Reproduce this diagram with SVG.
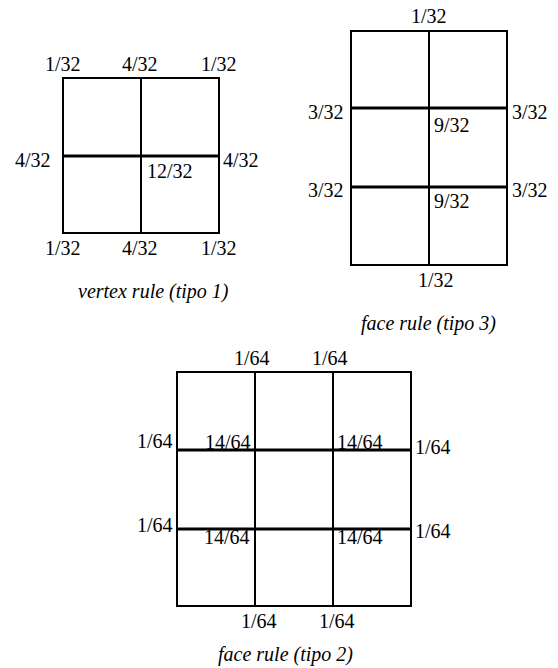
<svg xmlns="http://www.w3.org/2000/svg" width="558" height="668" viewBox="0 0 558 668">
<style>
.b{fill:none;stroke:#000;stroke-width:2}
.v{stroke:#000;stroke-width:2}
.h{stroke:#000;stroke-width:3}
text{font-family:"Liberation Serif","Times New Roman",serif;font-size:20px;fill:#000}
.c{font-style:italic}
</style>
<rect width="558" height="668" fill="#fff"/>
<g id="vertex-rule">
<rect class="b" x="63" y="78" width="156" height="155"/>
<line class="v" x1="141" y1="78" x2="141" y2="233"/>
<line class="h" x1="63" y1="156" x2="219" y2="156"/>
<text x="45" y="71">1/32</text>
<text x="122" y="71">4/32</text>
<text x="201" y="71">1/32</text>
<text x="15" y="167">4/32</text>
<text x="223" y="167">4/32</text>
<text x="147" y="178">12/32</text>
<text x="45" y="255">1/32</text>
<text x="122" y="255">4/32</text>
<text x="201" y="255">1/32</text>
<text class="c" x="78" y="298">vertex rule (tipo 1)</text>
</g>
<g id="face-rule-3">
<rect class="b" x="351" y="31" width="156" height="234"/>
<line class="v" x1="429" y1="31" x2="429" y2="265"/>
<line class="h" x1="351" y1="108" x2="507" y2="108"/>
<line class="h" x1="351" y1="187" x2="507" y2="187"/>
<text x="411" y="23">1/32</text>
<text x="308" y="119">3/32</text>
<text x="512" y="119">3/32</text>
<text x="434" y="132">9/32</text>
<text x="308" y="197">3/32</text>
<text x="512" y="197">3/32</text>
<text x="434" y="208">9/32</text>
<text x="418" y="287">1/32</text>
<text class="c" x="361" y="330">face rule (tipo 3)</text>
</g>
<g id="face-rule-2">
<rect class="b" x="177" y="372" width="234" height="234"/>
<line class="v" x1="255" y1="372" x2="255" y2="606"/>
<line class="v" x1="333" y1="372" x2="333" y2="606"/>
<line class="h" x1="177" y1="450" x2="411" y2="450"/>
<line class="h" x1="177" y1="529" x2="411" y2="529"/>
<text x="234" y="365">1/64</text>
<text x="312" y="365">1/64</text>
<text x="137" y="448">1/64</text>
<text x="415" y="454">1/64</text>
<text x="137" y="532">1/64</text>
<text x="415" y="538">1/64</text>
<text x="205" y="449">14/64</text>
<text x="337" y="449">14/64</text>
<text x="204" y="544">14/64</text>
<text x="337" y="544">14/64</text>
<text x="241" y="628">1/64</text>
<text x="319" y="628">1/64</text>
<text class="c" x="218" y="661">face rule (tipo 2)</text>
</g>
<g id="connectors"></g>
</svg>
